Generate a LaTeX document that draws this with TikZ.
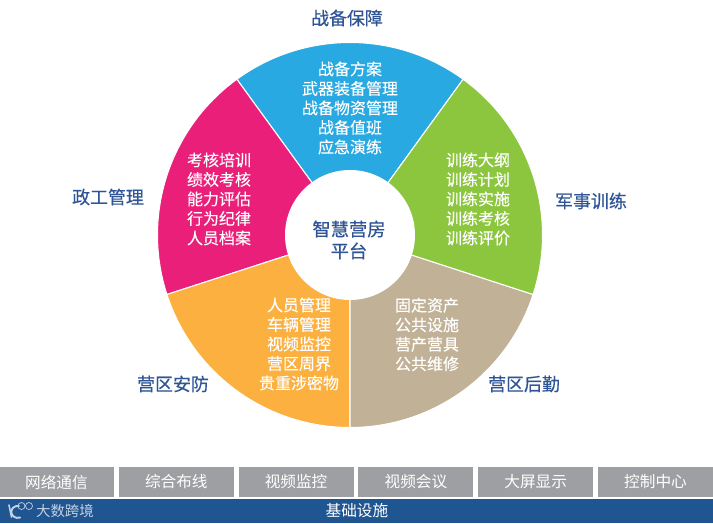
\documentclass[tikz,border=0pt]{standalone}
\usepackage{fontspec}
\setmainfont{Noto Sans CJK SC}
\newfontfamily\labelfont[FakeBold=0.5]{Noto Sans CJK SC}
\newfontfamily\itemfont[FakeBold=0.2]{Noto Sans CJK SC}
\usetikzlibrary{calc, positioning}

\definecolor{sectorblue}{HTML}{29A9E1}
\definecolor{sectorgreen}{HTML}{8CC63F}
\definecolor{sectorpink}{HTML}{EA1F79}
\definecolor{sectororange}{HTML}{FBB03F}
\definecolor{sectortan}{HTML}{C1B196}
\definecolor{labelblue}{HTML}{2F5596}
\definecolor{bargray}{HTML}{9E9FA3}
\definecolor{barblue}{HTML}{1F5590}
\definecolor{logogray}{HTML}{C4D0E0}

\tikzset{
	sector/.style={draw=white, line width=0.6pt, line join=round},
	itemtext/.style={text=white, align=center, inner sep=0pt, font=\itemfont\fontsize{9.1}{11.1}\selectfont},
	sidelabel/.style={text=labelblue, inner sep=0pt, font=\labelfont\fontsize{10.2}{12}\selectfont},
	barbox/.style={fill=bargray, minimum width=2.3cm, minimum height=0.6cm, inner sep=0pt, outer sep=0pt, text=white, font=\fontsize{8.9}{11}\selectfont}
}

\begin{document}
\begin{tikzpicture}
	\useasboundingbox (-7,-5.78) rectangle (7.26,4.7);

	% --- RING OF FIVE SECTORS ---
	\filldraw[sector, fill=sectorblue] (0,0) -- (54:3.85) arc (54:126:3.85) -- cycle;
	\filldraw[sector, fill=sectorpink] (0,0) -- (126:3.85) arc (126:198:3.85) -- cycle;
	\filldraw[sector, fill=sectororange] (0,0) -- (198:3.85) arc (198:270:3.85) -- cycle;
	\filldraw[sector, fill=sectortan] (0,0) -- (270:3.85) arc (270:342:3.85) -- cycle;
	\filldraw[sector, fill=sectorgreen] (0,0) -- (342:3.85) arc (342:414:3.85) -- cycle;

	% Hub
	\node[circle, fill=white, minimum size=2.6cm, inner sep=0pt] (Hub) at (0,0) {};
	\node[text=labelblue, align=center, inner sep=0pt, font=\labelfont\fontsize{10.4}{12.5}\selectfont] (HubText) at (-0.02,-0.1) {智慧营房\\平台};

	% Sector contents
	\node[itemtext] (BlueItems) at (0,2.54) {战备方案\\武器装备管理\\战备物资管理\\战备值班\\应急演练};
	\node[itemtext] (PinkItems) at (-2.62,0.72) {考核培训\\绩效考核\\能力评估\\行为纪律\\人员档案};
	\node[itemtext] (GreenItems) at (2.56,0.72) {训练大纲\\训练计划\\训练实施\\训练考核\\训练评价};
	\node[itemtext] (OrangeItems) at (-1.02,-2.18) {人员管理\\车辆管理\\视频监控\\营区周界\\贵重涉密物};
	\node[itemtext] (TanItems) at (1.54,-1.99) {固定资产\\公共设施\\营产营具\\公共维修};

	% Outer labels
	\node[sidelabel] (Readiness) at (-0.06,4.34) {战备保障};
	\node[sidelabel] (Training) at (4.82,0.68) {军事训练};
	\node[sidelabel] (Logistics) at (3.48,-2.98) {营区后勤};
	\node[sidelabel] (Security) at (-3.54,-2.98) {营区安防};
	\node[sidelabel] (Politics) at (-4.84,0.76) {政工管理};

	% --- BOTTOM BARS ---
	\node[barbox, anchor=north west] (BarA) at (-7.02,-4.64) {网络通信};
	\node[barbox, right=0.096cm of BarA] (BarB) {综合布线};
	\node[barbox, right=0.096cm of BarB] (BarC) {视频监控};
	\node[barbox, right=0.096cm of BarC] (BarD) {视频会议};
	\node[barbox, right=0.096cm of BarD] (BarE) {大屏显示};
	\node[barbox, right=0.096cm of BarE] (BarF) {控制中心};

	\node[fill=barblue, anchor=north west, minimum width=14.26cm, minimum height=0.48cm, inner sep=0pt, outer sep=0pt] (Base) at (-7,-5.28) {};
	\node[text=white, inner sep=0pt, font=\fontsize{8.9}{11}\selectfont] (BaseText) at (0.14,-5.52) {基础设施};

	% Logo
	\draw[logogray, line width=0.9pt, line cap=round] (-6.82,-5.40) -- (-6.77,-5.64);
	\draw[logogray, line width=1.1pt, line cap=round] (-6.62,-5.42) arc (80:290:0.13 and 0.12);
	\draw[logogray, line width=0.4pt] (-6.57,-5.42) circle (0.07);
	\draw[logogray, line width=0.4pt] (-6.42,-5.42) circle (0.07);
	\node[text=logogray, inner sep=0pt, font=\fontsize{8.2}{10}\selectfont] (LogoText) at (-5.70,-5.52) {大数跨境};

\end{tikzpicture}
\end{document}
